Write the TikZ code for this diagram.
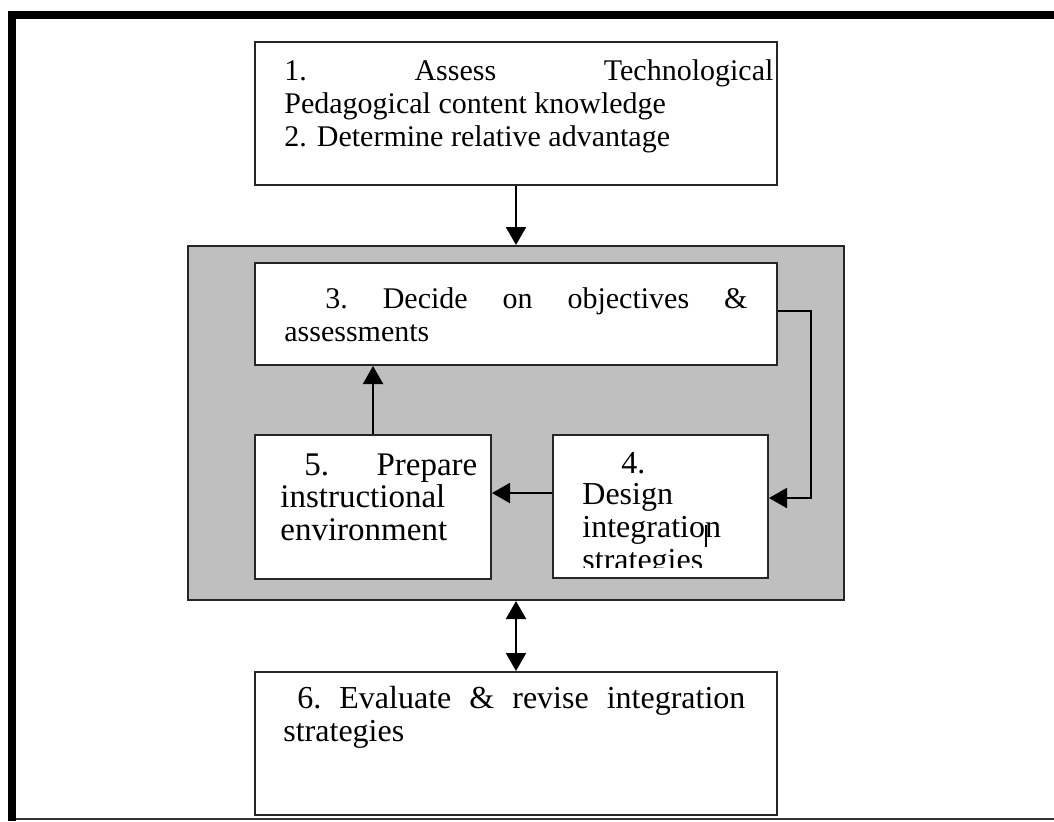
\documentclass[tikz,border=0pt]{standalone}
\usepackage{fontspec}
\setmainfont{Liberation Serif}
\usetikzlibrary{arrows.meta,calc}
\begin{document}
\begin{tikzpicture}[x=0.5pt,y=-0.5pt,
  panel/.style={draw=black!85, line width=1pt, fill=white, anchor=north west, inner sep=0pt},
  txt/.style={anchor=base west, inner sep=0pt, font=\fontsize{15pt}{16.5pt}\selectfont},
  bigtxt/.style={txt, font=\fontsize{16pt}{16.5pt}\selectfont},
  largetxt/.style={txt, font=\fontsize{16.5pt}{16.5pt}\selectfont},
  arr/.style={line width=1pt, -{Triangle[length=9pt,width=10pt]}},
  dblarr/.style={line width=1pt, {Triangle[length=9pt,width=10pt]}-{Triangle[length=9pt,width=10pt]}}]
\useasboundingbox (0,0) rectangle (1054,821);

% page frame
\fill[black] (8,11) rectangle (1054,19);
\fill[black] (8,11) rectangle (16,821);
\draw[black!80, line width=0.8pt] (16,819) -- (1054,819);

% grey group around steps 3-5
\node[draw=black!85, line width=1pt, fill=black!25, anchor=north west,
      minimum width=328pt, minimum height=177pt, inner sep=0pt] (grp) at (187,245) {};

% boxes
\node[panel, minimum width=261pt, minimum height=71.5pt] (b1) at (254,41) {};
\node[panel, minimum width=261pt, minimum height=51pt] (b3) at (254,262) {};
\node[panel, minimum width=118pt, minimum height=72pt] (b5) at (254,434) {};
\node[panel, minimum width=107.5pt, minimum height=71.5pt] (b4) at (552,434) {};
\node[panel, minimum width=261pt, minimum height=71.5pt] (b6) at (254,671) {};

% texts
\node[txt] (t1a) at (284,80) {\hbox to 244.5pt{1.\hfill Assess\hfill Technological}};
\node[txt] (t1b) at (284,113) {Pedagogical content knowledge};
\node[txt] (t1c) at (284,146) {2. Determine relative advantage};

\node[txt] (t3a) at (325,308) {\hbox to 211pt{3.\hfill Decide\hfill on\hfill objectives\hfill \&}};
\node[txt] (t3b) at (284,341) {assessments};

\node[largetxt] (t5a) at (304,475) {\hbox to 86.5pt{5.\hfill Prepare}};
\node[largetxt] (t5b) at (280,507) {instructional};
\node[largetxt] (t5c) at (280,540) {environment};

\begin{scope}
  \clip (552,434) rectangle (767,567);
  \node[bigtxt] (t4a) at (621,473) {4.};
  \node[bigtxt] (t4b) at (582,504) {Design};
  \node[bigtxt] (t4c) at (582,537) {integration};
  \node[bigtxt] (t4d) at (582,570) {strategies};
\end{scope}
% stray text cursor
\draw[line width=0.8pt] (706,525) -- (706,547);

\node[bigtxt] (t6a) at (297,708) {\hbox to 224pt{6.\hfill Evaluate\hfill \&\hfill revise\hfill integration}};
\node[bigtxt] (t6b) at (283,741) {strategies};

% connectors
\draw[arr] (b1.south) -- (b1.south |- grp.north);
\coordinate (o3) at ($(b3.north east)+(0,49)$);
\coordinate (i4) at ($(b4.north east)+(0,64)$);
\draw[arr] (o3) -- ++(33,0) |- (i4);
\coordinate (o4) at ($(b4.north west)+(0,59)$);
\draw[arr] (o4) -- (o4 -| b5.east);
\draw[arr] (b5.north) -- (b5.north |- b3.south);
\draw[dblarr] (b6.north |- grp.south) -- (b6.north);
\end{tikzpicture}
\end{document}
